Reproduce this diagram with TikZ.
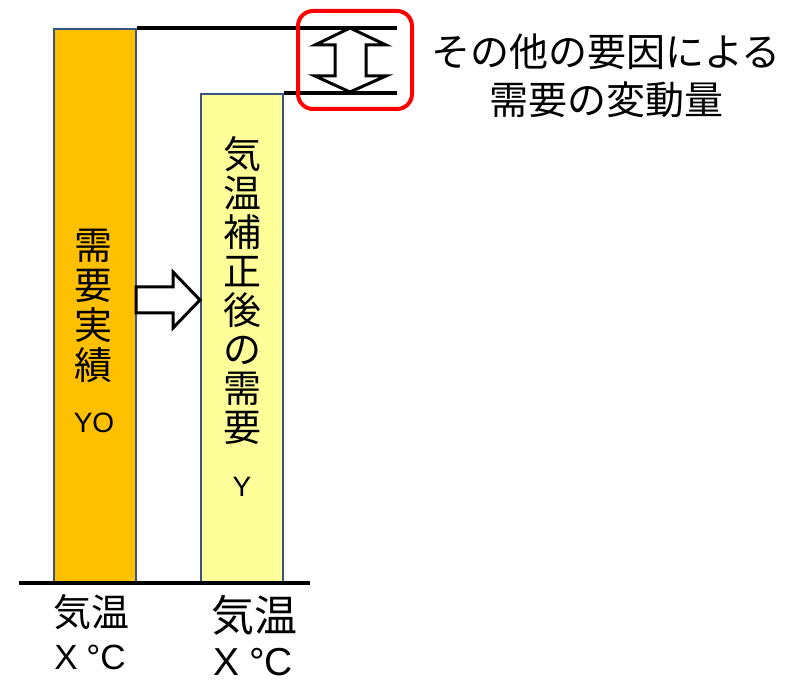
\documentclass[tikz,border=0pt]{standalone}
\usepackage{fontspec}
\setmainfont{Liberation Sans}
\newfontfamily\cjk{Noto Sans CJK JP}
\definecolor{barorange}{HTML}{FFC000}
\definecolor{baryellow}{HTML}{FFFF99}
\definecolor{barborder}{HTML}{3B5285}
\definecolor{boxred}{HTML}{FF0000}
\begin{document}
\begin{tikzpicture}[x=1pt,y=-1pt,
  bar/.style={draw=barborder,line width=2pt,rectangle,anchor=north west,inner sep=0pt,minimum width=82pt},
  vtext/.style={align=center,inner sep=0pt,font=\cjk\fontsize{38}{40}\selectfont},
  latin/.style={inner sep=0pt,font=\fontsize{28}{30}\selectfont},
  blk/.style={draw=black,line width=3pt,fill=white,line join=miter},
  guide/.style={draw=black,line width=3.2pt},
  label/.style={inner sep=0pt,align=center}]
\useasboundingbox (0,0) rectangle (793,684);
% bars
\node[bar,fill=barorange,minimum height=555pt] (orange) at (53,28) {};
\node[bar,fill=baryellow,minimum height=490pt] (yellow) at (200,93) {};
% baseline
\coordinate (bl) at (19,583);
\coordinate (br) at (310,583);
\draw[guide] (bl) -- (br);
% guide lines
\coordinate (t1) at (397,28);
\coordinate (t2) at (397,93);
\draw[guide] (orange.north east) -- (t1);
\draw[guide] (yellow.north east) -- (t2);
% double block arrow
\draw[blk] (350,28) -- (386,45) -- (366,45) -- (366,76) -- (386,76) -- (350,92)
  -- (315,76) -- (335,76) -- (335,45) -- (315,45) -- cycle;
% red rounded box
\node[draw=boxred,line width=4pt,rounded corners=15pt,minimum width=114pt,minimum height=98pt,inner sep=0pt] (redbox) at (355,60) {};
% right block arrow
\draw[blk] (136,287) -- (173,287) -- (173,272) -- (200,300) -- (173,328) -- (173,313) -- (136,313) -- cycle;
% bar texts
\node[vtext] (t_orange) at (93,306) {需\\要\\実\\績};
\node[latin] (y0) at (94,423) {YO};
\node[vtext,font=\cjk\fontsize{38}{39}\selectfont] (t_yellow) at (242,291) {気\\温\\補\\正\\後\\の\\需\\要};
\node[latin] (y1) at (242,487) {Y};
% right label
\node[label,font=\cjk\fontsize{39}{48}\selectfont] (other) at (606,76) {その他の要因による\\需要の変動量};
% bottom labels
\node[label,font=\cjk\fontsize{38}{40}\selectfont] (k1) at (91,612) {気温};
\node[label,font=\fontsize{35}{38}\selectfont] (x1) at (90,657) {X\hspace{0.25em}°C};
\node[label,font=\cjk\fontsize{43}{45}\selectfont] (k2) at (254,615) {気温};
\node[label,font=\fontsize{39}{42}\selectfont] (x2) at (253,662) {X\hspace{0.25em}°C};
\end{tikzpicture}
\end{document}
